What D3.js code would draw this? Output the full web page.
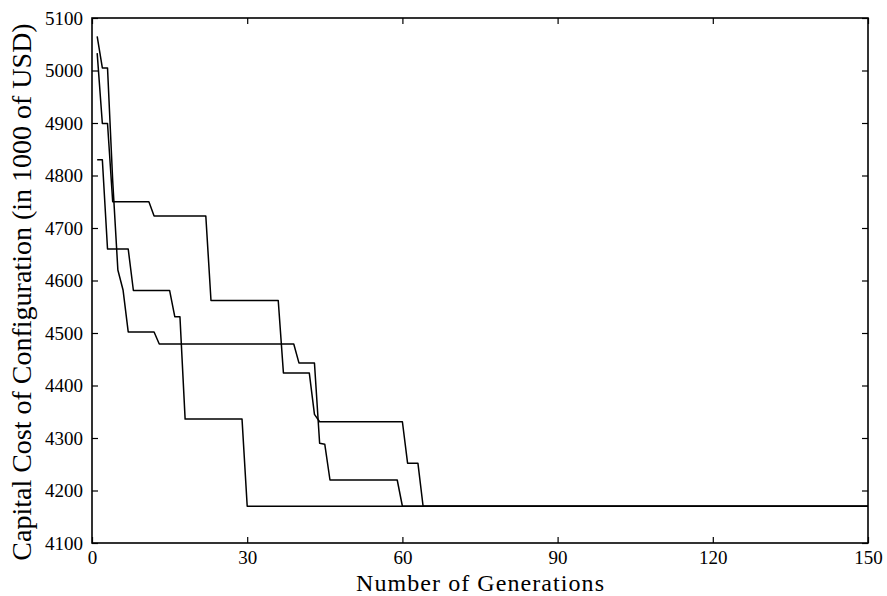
<!DOCTYPE html>
<html>
<head>
<meta charset="utf-8">
<script src="https://cdn.jsdelivr.net/npm/d3@7"></script>
<style>
    html, body { margin: 0; padding: 0; background: #fff; }
    svg text { font-family: "Liberation Serif", "Times New Roman", serif; fill: #000; }
</style>
</head>
<body>
<svg id="chart" width="887" height="596"></svg>
<script>
// best cost per generation, only the vertices where the curve changes slope
const run1 = [[1, 5065], [2, 5005], [3, 5005], [4, 4790], [5, 4620], [6, 4582], [7, 4502], [12, 4502],
    [13, 4479], [39, 4479], [40, 4443], [43, 4443], [44, 4290], [45, 4288], [46, 4220], [59, 4220],
    [60, 4170], [150, 4170]];
const run2 = [[1, 5033], [2, 4899], [3, 4899], [4, 4750], [11, 4750], [12, 4723], [22, 4723], [23, 4562],
    [36, 4562], [37, 4424], [42, 4424], [43, 4345], [44, 4331], [60, 4331], [61, 4252], [63, 4252],
    [64, 4170], [150, 4170]];
const run3 = [[1, 4830], [2, 4830], [3, 4660], [7, 4660], [8, 4581], [15, 4581], [16, 4531], [17, 4531],
    [18, 4336], [29, 4336], [30, 4170], [150, 4170]];
const runs = [run1, run2, run3];

const xTicks = [0, 30, 60, 90, 120, 150];
const yTicks = [4100, 4200, 4300, 4400, 4500, 4600, 4700, 4800, 4900, 5000, 5100];

const svg = d3.select("#chart");
const margin = { top: 18, right: 19, bottom: 53, left: 92 };
const width = 887 - margin.left - margin.right;
const height = 596 - margin.top - margin.bottom;
const g = svg.append("g").attr("transform", `translate(${margin.left},${margin.top})`);

const x = d3.scaleLinear().domain([0, 150]).range([0, width]);
const y = d3.scaleLinear().domain([4100, 5100]).range([height, 0]);

const tick = 6;
const fontSize = 19;

// ticks point inward on all four sides, MATLAB style
const bottomAxis = d3.axisBottom(x).tickValues(xTicks).tickFormat(d3.format("d"))
    .tickSizeInner(-tick).tickSizeOuter(0).tickPadding(8);
const leftAxis = d3.axisLeft(y).tickValues(yTicks).tickFormat(d3.format("d"))
    .tickSizeInner(-tick).tickSizeOuter(0).tickPadding(9);

const styleAxis = a => a.attr("font-family", null).attr("font-size", fontSize)
    .selectAll("text").attr("font-size", fontSize);

g.append("g").attr("transform", `translate(0,${height})`).call(bottomAxis).call(styleAxis);
g.append("g").call(leftAxis).call(styleAxis);
g.append("g").call(d3.axisTop(x).tickValues(xTicks).tickSizeInner(-tick).tickSizeOuter(0).tickFormat(""));
g.append("g").attr("transform", `translate(${width},0)`)
    .call(d3.axisRight(y).tickValues(yTicks).tickSizeInner(-tick).tickSizeOuter(0).tickFormat(""));

g.selectAll(".domain").remove();
g.selectAll(".tick line").attr("stroke", "#000").attr("stroke-width", 1.2);

g.append("rect")
    .attr("width", width).attr("height", height)
    .attr("fill", "none").attr("stroke", "#000").attr("stroke-width", 1.6);

const line = d3.line().x(d => x(d[0])).y(d => y(d[1]));
g.selectAll("path.run")
    .data(runs)
    .join("path")
    .attr("class", "run")
    .attr("d", line)
    .attr("fill", "none")
    .attr("stroke", "#000")
    .attr("stroke-width", 1.5)
    .attr("stroke-linejoin", "round");

svg.append("text")
    .attr("x", 480)
    .attr("y", 590.5)
    .attr("text-anchor", "middle")
    .attr("font-size", 24)
    .attr("textLength", 248)
    .text("Number of Generations");

svg.append("text")
    .attr("transform", "translate(31,292) rotate(-90)")
    .attr("text-anchor", "middle")
    .attr("font-size", 28)
    .text("Capital Cost of Configuration (in 1000 of USD)");
</script>
</body>
</html>
